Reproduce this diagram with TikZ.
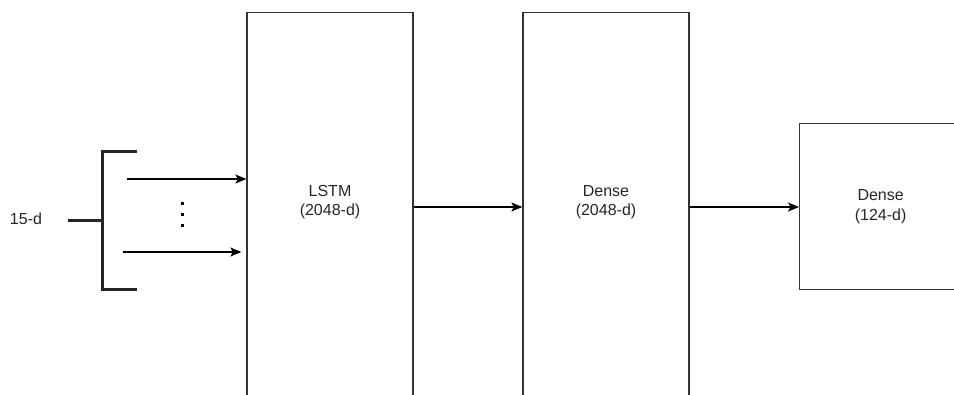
\documentclass[tikz,border=0pt]{standalone}
\usepackage{fontspec}
\setmainfont{Liberation Sans}
\usetikzlibrary{arrows.meta}
\usetikzlibrary{positioning}

\tikzset{
    schicht/.style={draw=black!80, line width=1.3pt, rectangle, inner sep=0pt},
    beschr/.style={align=center, font=\fontsize{16}{19.5}\selectfont, text=black!85},
    pfeil/.style={-{Stealth[length=11pt, width=9pt, inset=2.5pt]}, line width=1.2pt},
    klammer/.style={line width=3pt, black!85}
}

\begin{document}
\begin{tikzpicture}[x=1pt, y=-1pt]
    \useasboundingbox (0,0) rectangle (954,394);
    \clip (0,0) rectangle (954,394);

    % Schichten
    \node[schicht, anchor=north, minimum width=166pt, minimum height=420pt] (lstm) at (330,12) {};
    \node[schicht, anchor=north, minimum width=166pt, minimum height=420pt] (dense1) at (606,12) {};
    \node[schicht, beschr, anchor=north west, minimum width=162pt, minimum height=166pt] (dense2) at (799,123) {Dense\\(124-d)};
    \node[beschr] (lstmtxt) at (330,202) {LSTM\\(2048-d)};
    \node[beschr] (dense1txt) at (606,202) {Dense\\(2048-d)};

    % Eingang
    \node[beschr] (eingang) at (26,219) {15-d};
    \coordinate (stiel) at (68,220);
    \coordinate (ein1) at (127,179);
    \coordinate (ein2) at (123,252);
    \coordinate (mitte) at (0,207);
    \draw[klammer] (stiel) -- (102,220);
    \draw[klammer] (137,151) -- (102,151) -- (102,289) -- (137,289);
    \foreach \y in {203,214,225} {
        \fill (180.5,\y-1.5) rectangle (183.5,\y+1.5);
    }

    % Verbindungen
    \draw[pfeil] (ein1) -- (lstm.west |- ein1);
    \draw[pfeil] (ein2) -- ([xshift=-5pt]lstm.west |- ein2);
    \draw[pfeil] (lstm.east |- mitte) -- (dense1.west |- mitte);
    \draw[pfeil] (dense1.east |- mitte) -- (dense2.west |- mitte);
\end{tikzpicture}
\end{document}
